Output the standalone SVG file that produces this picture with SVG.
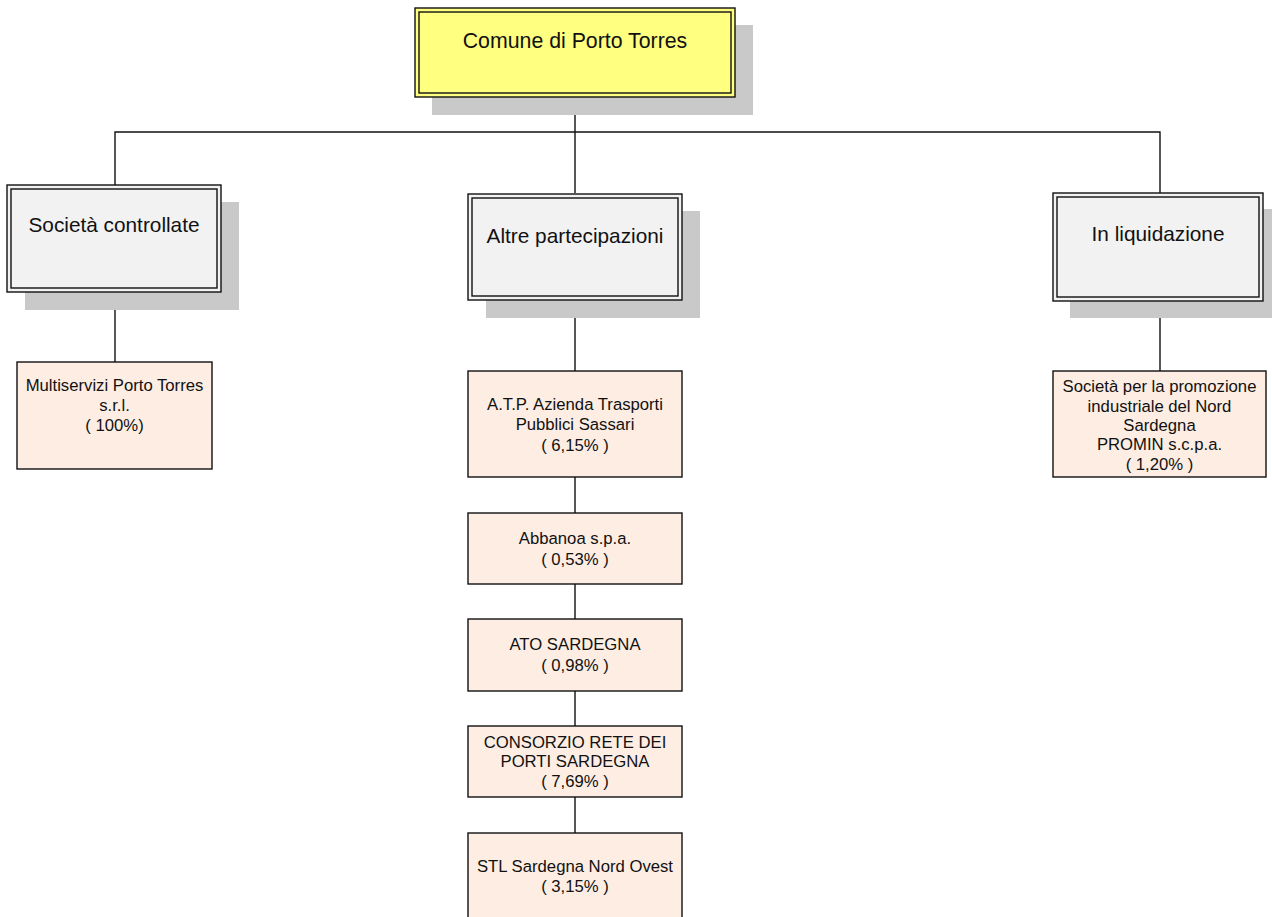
<svg xmlns="http://www.w3.org/2000/svg" width="1272" height="917" viewBox="0 0 1272 917">
<style>
.shadow{fill:#c9c9c9;stroke:none}
.out{stroke:#111;stroke-width:1.4}
.in{fill:none;stroke:#111;stroke-width:1.4}
.hdr{fill:#f2f2f2}
.top{fill:#ffff80}
.child{fill:#fdede3;stroke:#111;stroke-width:1.4}
text{font-family:"Liberation Sans",Arial,sans-serif;fill:#111;text-anchor:middle}
.h{font-size:20.8px}
.t{font-size:21.3px}
.c{font-size:16.7px}
.conn{fill:none;stroke:#111;stroke-width:1.4}
</style>
<rect width="1272" height="917" fill="#ffffff"/>
<g id="connectors">
<path class="conn" d="M575 97 V193 M115 185 V132 H1160 V193"/>
<path class="conn" d="M115 292 V362"/>
<path class="conn" d="M575 300 V371 M575 477 V513 M575 584 V619 M575 691 V726 M575 797 V833"/>
<path class="conn" d="M1160 301 V371"/>
</g>
<g id="comune">
<rect class="shadow" x="432" y="25" width="321" height="90"/>
<rect class="top out" x="415" y="8" width="320" height="89"/>
<rect class="in" x="419" y="12" width="312" height="81"/>
<text class="t" x="575" y="48">Comune di Porto Torres</text>
</g>
<g id="controllate">
<rect class="shadow" x="25" y="202" width="214" height="108"/>
<rect class="hdr out" x="7" y="185" width="214" height="107"/>
<rect class="in" x="11" y="189" width="206" height="99"/>
<text class="h" x="114" y="232">Società controllate</text>
</g>
<g id="altre">
<rect class="shadow" x="486" y="211" width="214" height="107"/>
<rect class="hdr out" x="468" y="194" width="214" height="106"/>
<rect class="in" x="472" y="198" width="206" height="98"/>
<text class="h" x="575" y="243">Altre partecipazioni</text>
</g>
<g id="liquidazione">
<rect class="shadow" x="1070" y="209" width="205" height="109"/>
<rect class="hdr out" x="1053" y="193" width="210" height="108"/>
<rect class="in" x="1057" y="197" width="202" height="100"/>
<text class="h" x="1158" y="241">In liquidazione</text>
</g>
<g id="multiservizi">
<rect class="child" x="17" y="362" width="195" height="107"/>
<text class="c" x="114.5"><tspan x="114.5" y="391">Multiservizi Porto Torres</tspan><tspan x="114.5" y="411">s.r.l.</tspan><tspan x="114.5" y="431">( 100%)</tspan></text>
</g>
<g id="atp">
<rect class="child" x="468" y="371" width="214" height="106"/>
<text class="c" x="575"><tspan x="575" y="410">A.T.P. Azienda Trasporti</tspan><tspan x="575" y="430">Pubblici Sassari</tspan><tspan x="575" y="451">( 6,15% )</tspan></text>
</g>
<g id="abbanoa">
<rect class="child" x="468" y="513" width="214" height="71"/>
<text class="c" x="575"><tspan x="575" y="544">Abbanoa s.p.a.</tspan><tspan x="575" y="565">( 0,53% )</tspan></text>
</g>
<g id="ato">
<rect class="child" x="468" y="619" width="214" height="72"/>
<text class="c" x="575"><tspan x="575" y="650">ATO SARDEGNA</tspan><tspan x="575" y="671">( 0,98% )</tspan></text>
</g>
<g id="consorzio">
<rect class="child" x="468" y="726" width="214" height="71"/>
<text class="c" x="575"><tspan x="575" y="748">CONSORZIO RETE DEI</tspan><tspan x="575" y="767">PORTI SARDEGNA</tspan><tspan x="575" y="787">( 7,69% )</tspan></text>
</g>
<g id="stl">
<rect class="child" x="468" y="833" width="214" height="100"/>
<text class="c" x="575"><tspan x="575" y="872">STL Sardegna Nord Ovest</tspan><tspan x="575" y="892">( 3,15% )</tspan></text>
</g>
<g id="promin">
<rect class="child" x="1053" y="371" width="213" height="106"/>
<text class="c" x="1159.5"><tspan x="1159.5" y="392">Società per la promozione</tspan><tspan x="1159.5" y="412">industriale del Nord</tspan><tspan x="1159.5" y="431">Sardegna</tspan><tspan x="1159.5" y="450">PROMIN s.c.p.a.</tspan><tspan x="1159.5" y="470">( 1,20% )</tspan></text>
</g>
</svg>
